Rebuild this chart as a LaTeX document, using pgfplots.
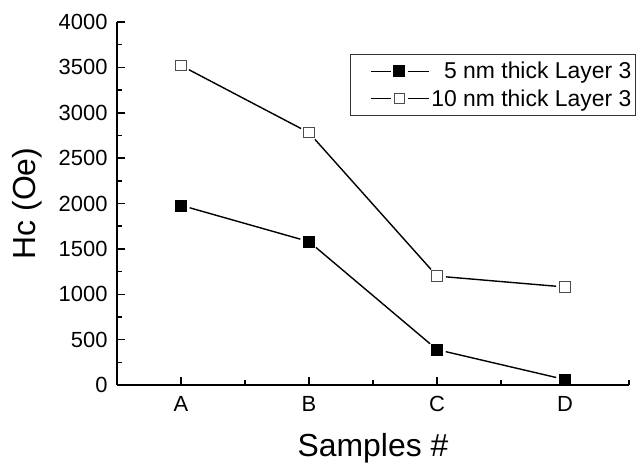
\documentclass[border=0pt]{standalone}
\usepackage{pgfplots}
\pgfplotsset{compat=1.18}
\usepackage{fontspec}
\setmainfont{Liberation Sans}
\pgfplotstableread{
x y
0 1980
1 1580
2 390
3 60
}\thin
\pgfplotstableread{
x y
0 3520
1 2780
2 1200
3 1080
}\thick
\begin{document}
\begin{tikzpicture}
\begin{axis}[
  scale only axis, width=512bp, height=363bp,
  at={(0,0)}, anchor=south west,
  axis x line*=bottom, axis y line*=left,
  axis line style={line width=1.8bp},
  axis on top,
  xmin=-0.5, xmax=3.5, ymin=0, ymax=4000,
  xtick={0,1,2,3}, xticklabels={A,B,C,D},
  minor xtick={-0.5,0.5,1.5,2.5,3.5},
  ytick={0,500,...,4000}, minor ytick={250,750,...,3750},
  tick align=inside,
  major tick length=8bp, minor tick length=5bp,
  every tick/.style={line width=1.5bp, black},
  /pgf/number format/assume math mode=true,
  /pgf/number format/1000 sep={},
  tick label style={font=\fontsize{22}{26}\selectfont},
  xticklabel style={yshift=-8bp},
  yticklabel style={xshift=-6bp},
  xlabel={Samples \#}, ylabel={Hc (Oe)},
  label style={font=\fontsize{32}{38}\selectfont},
  xlabel style={yshift=-15bp},
  ylabel style={yshift=10bp},
  legend cell align=left,
  legend style={at={(0.455,0.912)}, anchor=north west, draw=black!80, line width=0.8bp,
    font=\fontsize{23}{27}\selectfont, inner xsep=2bp, inner ysep=6bp, row sep=5bp},
]
% line segments with gaps at the markers
\addplot[black, line width=1.4bp, shorten <=9bp, shorten >=9bp, forget plot] coordinates {(0,1980) (1,1580)};
\addplot[black, line width=1.4bp, shorten <=9bp, shorten >=9bp, forget plot] coordinates {(1,1580) (2,390)};
\addplot[black, line width=1.4bp, shorten <=9bp, shorten >=9bp, forget plot] coordinates {(2,390) (3,60)};
\addplot[black, line width=1.4bp, shorten <=9bp, shorten >=9bp, forget plot] coordinates {(0,3520) (1,2780)};
\addplot[black, line width=1.4bp, shorten <=9bp, shorten >=9bp, forget plot] coordinates {(1,2780) (2,1200)};
\addplot[black, line width=1.4bp, shorten <=9bp, shorten >=9bp, forget plot] coordinates {(2,1200) (3,1080)};
% markers
\addplot[only marks, mark=square*, mark size=5.5bp, mark options={draw=black, fill=black, line width=0.6bp}, forget plot] table {\thin};
\addplot[only marks, mark=square*, mark size=5.2bp, mark options={draw=black!70, fill=white, line width=1bp}, forget plot] table {\thick};
\addlegendimage{legend image code/.code={
  \path (0bp,0bp);
  \draw[line width=1.2bp] (18bp,0bp) -- (38bp,0bp);
  \draw[line width=1.2bp] (55bp,0bp) -- (76bp,0bp);
  \fill[black] (41bp,-5bp) rectangle (52bp,6bp);}}
\addlegendentry{\hphantom{1}5 nm thick Layer 3}
\addlegendimage{legend image code/.code={
  \path (0bp,0bp);
  \draw[line width=1.2bp] (18bp,0bp) -- (38bp,0bp);
  \draw[line width=1.2bp] (55bp,0bp) -- (76bp,0bp);
  \draw[black!70, fill=white, line width=0.8bp] (41.5bp,-4.5bp) rectangle (51.5bp,5.5bp);}}
\addlegendentry{10 nm thick Layer 3}
\end{axis}
\pgfresetboundingbox
\path (-117bp,-79bp) rectangle (522bp,385bp);
\end{tikzpicture}
\end{document}
